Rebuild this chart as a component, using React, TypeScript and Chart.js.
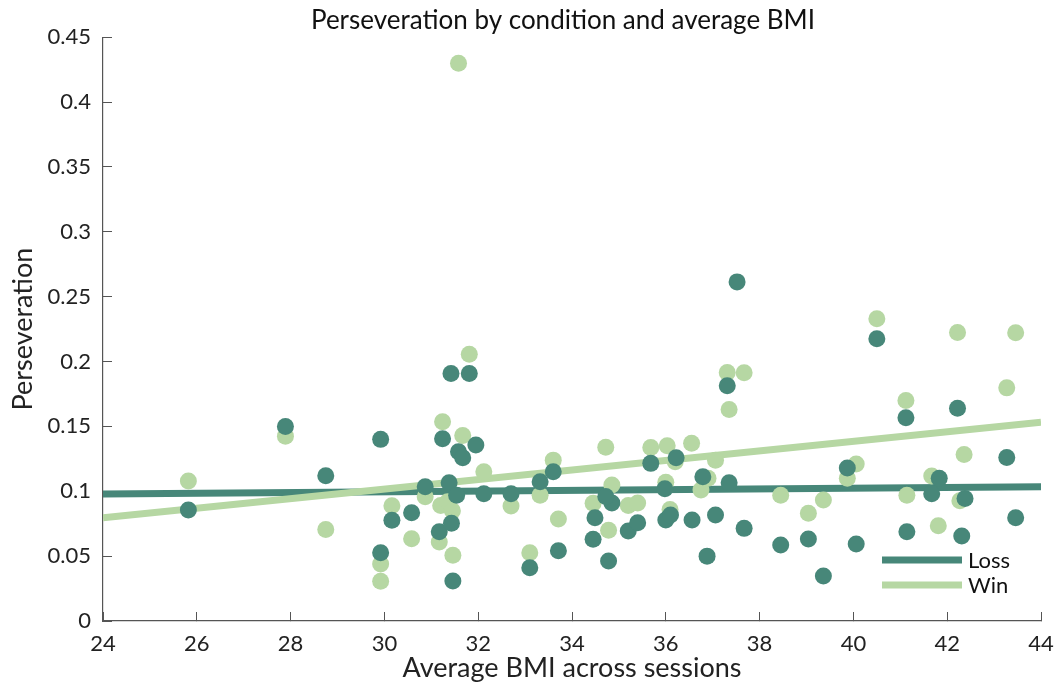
import React, { useEffect, useRef } from "react";
import { Chart, registerables } from "chart.js";

Chart.register(...registerables);

const chartTitle = "Perseveration by condition and average BMI";
const xTitle = "Average BMI across sessions";
const yTitle = "Perseveration";

const lossBMI = [25.82, 27.89, 28.75, 29.92, 29.92, 30.16, 30.58, 30.87, 31.17, 31.24, 31.38, 31.42, 31.43, 31.46, 31.54, 31.58, 31.67, 31.81, 31.95, 32.12, 32.7, 33.1, 33.32, 33.6, 33.71, 34.49, 34.45, 34.78, 34.85, 34.72, 35.2, 35.4, 35.68, 35.98, 36.0, 36.1, 36.22, 36.56, 36.79, 36.88, 37.06, 37.31, 37.35, 37.52, 37.67, 38.45, 39.04, 39.36, 39.87, 40.06, 40.5, 41.12, 41.14, 41.67, 41.83, 42.22, 42.31, 42.38, 43.27, 43.46];
const lossValues = [0.0855, 0.150, 0.112, 0.140, 0.0526, 0.0776, 0.0835, 0.1035, 0.0688, 0.1405, 0.1066, 0.1908, 0.0753, 0.0308, 0.097, 0.1305, 0.1258, 0.1908, 0.1356, 0.098, 0.098, 0.041, 0.1073, 0.115, 0.0542, 0.0796, 0.063, 0.0462, 0.091, 0.096, 0.0693, 0.0757, 0.1215, 0.102, 0.0778, 0.0817, 0.1258, 0.0778, 0.1112, 0.050, 0.0817, 0.1813, 0.1066, 0.2614, 0.0714, 0.0585, 0.0632, 0.0347, 0.118, 0.0593, 0.2175, 0.1566, 0.0688, 0.098, 0.11, 0.164, 0.0655, 0.0945, 0.126, 0.0796];

const winBMI = [25.82, 27.89, 28.75, 29.92, 29.92, 30.16, 30.58, 30.87, 31.17, 31.24, 31.2, 31.35, 31.45, 31.46, 31.58, 31.67, 31.81, 32.12, 32.7, 33.1, 33.32, 33.6, 33.71, 34.45, 34.72, 34.78, 34.85, 35.2, 35.4, 35.68, 36.0, 36.03, 36.09, 36.2, 36.55, 36.75, 36.9, 37.06, 37.31, 37.35, 37.67, 38.45, 39.04, 39.36, 39.87, 40.06, 40.5, 41.12, 41.14, 41.67, 41.81, 42.22, 42.27, 42.36, 43.27, 43.46];
const winValues = [0.108, 0.1425, 0.0706, 0.0439, 0.0306, 0.0888, 0.0634, 0.0957, 0.0609, 0.1536, 0.089, 0.092, 0.085, 0.0506, 0.430, 0.143, 0.2057, 0.115, 0.0886, 0.0526, 0.097, 0.124, 0.0786, 0.0907, 0.134, 0.070, 0.1048, 0.089, 0.091, 0.1338, 0.107, 0.135, 0.086, 0.1227, 0.137, 0.101, 0.11, 0.124, 0.1916, 0.163, 0.1913, 0.097, 0.083, 0.0932, 0.110, 0.121, 0.2329, 0.170, 0.097, 0.1117, 0.0734, 0.2224, 0.0927, 0.1284, 0.1797, 0.2221];

const fitBMI = [24, 44];
const lossFit = [0.0978, 0.1035];
const winFit = [0.0796, 0.1533];

const xTicks = [24, 26, 28, 30, 32, 34, 36, 38, 40, 42, 44];
const yTicks = [0, 0.05, 0.1, 0.15, 0.2, 0.25, 0.3, 0.35, 0.4, 0.45];

const LOSS_COLOR = "#478779";
const WIN_COLOR = "#b6d7a3";
const FONT = "Lato, 'Open Sans', sans-serif";

const toPoints = (xs: number[], ys: number[]) => xs.map((x, i) => ({ x, y: ys[i] }));

const titleShiftPlugin = {
  id: "titleShift",
  afterLayout(chart: any) {
    const tb = chart.titleBlock;
    if (tb) tb.left -= 18;
  },
};

const legendPlugin = {
  id: "insideLegend",
  afterDraw(chart: any) {
    const { ctx, chartArea } = chart;
    const items = [
      { label: "Loss", color: LOSS_COLOR },
      { label: "Win", color: WIN_COLOR },
    ];
    ctx.save();
    items.forEach((it, i) => {
      const y = chartArea.bottom - 61 + i * 25;
      const x0 = chartArea.right - 159;
      ctx.strokeStyle = it.color;
      ctx.lineWidth = 7;
      ctx.beginPath();
      ctx.moveTo(x0, y);
      ctx.lineTo(x0 + 80, y);
      ctx.stroke();
      ctx.fillStyle = "#111";
      ctx.font = `22px ${FONT}`;
      ctx.textBaseline = "middle";
      ctx.textAlign = "left";
      ctx.fillText(it.label, x0 + 86, y + 1);
    });
    ctx.restore();
  },
};

export default function App() {
  const ref = useRef<HTMLCanvasElement | null>(null);
  useEffect(() => {
    if (!ref.current) return;
    const chart = new Chart(ref.current, {
      type: "scatter",
      data: {
        datasets: [
          {
            label: "Loss points",
            data: toPoints(lossBMI, lossValues),
            backgroundColor: LOSS_COLOR,
            borderWidth: 0,
            pointRadius: 8.5,
            showLine: false,
          },
          {
            label: "Win points",
            data: toPoints(winBMI, winValues),
            backgroundColor: WIN_COLOR,
            borderWidth: 0,
            pointRadius: 8.5,
            showLine: false,
          },
          {
            label: "Win",
            data: toPoints(fitBMI, winFit),
            borderColor: WIN_COLOR,
            backgroundColor: WIN_COLOR,
            borderWidth: 7,
            pointRadius: 0,
            showLine: true,
          },
          {
            label: "Loss",
            data: toPoints(fitBMI, lossFit),
            borderColor: LOSS_COLOR,
            backgroundColor: LOSS_COLOR,
            borderWidth: 7,
            pointRadius: 0,
            showLine: true,
          },
        ],
      },
      options: {
        responsive: false,
        animation: false,
        layout: { padding: { left: 0, right: 0, top: 0, bottom: 0 } },
        plugins: {
          legend: { display: false },
          tooltip: { enabled: false },
          title: {
            display: true,
            text: chartTitle,
            fullSize: false,
            color: "#111",
            font: { family: FONT, size: 26, weight: "normal" },
            padding: { top: 5, bottom: 1 },
          },
        },
        scales: {
          x: {
            type: "linear",
            min: 24,
            max: 44,
            afterBuildTicks: (s: any) => {
              s.ticks = xTicks.map((v) => ({ value: v }));
            },
            afterFit: (s: any) => {
              s.height = 66;
              s.paddingRight = 13;
              s.paddingLeft = 0;
            },
            grid: {
              drawOnChartArea: false,
              drawTicks: true,
              tickLength: -9,
              tickColor: "#555",
            },
            border: { display: true, color: "#555", width: 1.2 },
            ticks: {
              color: "#222",
              padding: 19,
              maxRotation: 0,
              autoSkip: false,
              font: { family: FONT, size: 22 },
            },
            title: {
              display: true,
              text: xTitle,
              color: "#222",
              font: { family: FONT, size: 27 },
              padding: { top: 0, bottom: 3 },
            },
          },
          y: {
            type: "linear",
            min: 0,
            max: 0.45,
            afterBuildTicks: (s: any) => {
              s.ticks = yTicks.map((v) => ({ value: v }));
            },
            afterFit: (s: any) => {
              s.width = 103;
            },
            grid: {
              drawOnChartArea: false,
              drawTicks: true,
              tickLength: -9,
              tickColor: "#555",
            },
            border: { display: true, color: "#555", width: 1.2 },
            ticks: {
              color: "#222",
              padding: 21,
              autoSkip: false,
              font: { family: FONT, size: 22 },
              callback: (v: any) => String(Math.round(Number(v) * 100) / 100),
            },
            title: {
              display: true,
              text: yTitle,
              color: "#222",
              font: { family: FONT, size: 27 },
              padding: { top: 7, bottom: 0 },
            },
          },
        },
      },
      plugins: [titleShiftPlugin, legendPlugin],
    } as any);
    return () => chart.destroy();
  }, []);

  return (
    <div style={{ position: "absolute", left: 0, top: 0, width: 1054, height: 687, background: "#fff" }}>
      <canvas ref={ref} width={1054} height={687} />
    </div>
  );
}
